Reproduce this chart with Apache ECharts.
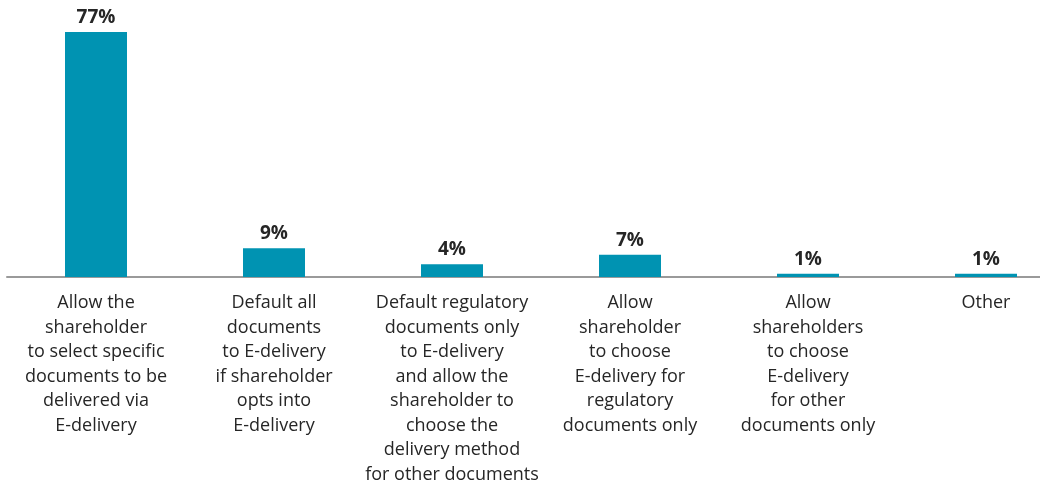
<!DOCTYPE html>
<html lang="en">
<head>
    <meta charset="UTF-8">
    <title>E-delivery</title>
    <style>
        html, body { margin: 0; padding: 0; background: #fff; }
        #main { width: 1040px; height: 482px; }
    </style>
</head>
<body>
<div id="main"></div>
<script src="https://cdn.jsdelivr.net/npm/echarts@6/dist/echarts.min.js"></script>
<script>
    const categories = [
        'Allow the\nshareholder\nto select specific\ndocuments to be\ndelivered via\nE-delivery',
        'Default all\ndocuments\nto E-delivery\nif shareholder\nopts into\nE-delivery',
        'Default regulatory\ndocuments only\nto E-delivery\nand allow the\nshareholder to\nchoose the\ndelivery method\nfor other documents',
        'Allow\nshareholder\nto choose\nE-delivery for\nregulatory\ndocuments only',
        'Allow\nshareholders\nto choose\nE-delivery\nfor other\ndocuments only',
        'Other'
    ];
    const values = [77, 9, 4, 7, 1, 1];

    const myChart = echarts.init(document.getElementById('main'));
    myChart.setOption({
        animation: false,
        textStyle: { fontFamily: 'Open Sans' },
        grid: { left: 7, right: -35, top: 32, bottom: 205, outerBoundsMode: 'none', containLabel: false },
        xAxis: {
            type: 'category',
            data: categories,
            axisTick: { show: false },
            axisLine: { lineStyle: { color: '#9a9a9a', width: 2 } },
            axisLabel: {
                interval: 0,
                color: '#262626',
                fontSize: 18,
                lineHeight: 24.5,
                margin: 14,
                align: 'center'
            }
        },
        yAxis: {
            type: 'value',
            min: 0,
            max: 77,
            show: false
        },
        series: [{
            type: 'bar',
            data: values,
            barWidth: 62,
            itemStyle: { color: '#0093b2' },
            label: {
                show: true,
                position: 'top',
                distance: 5,
                formatter: '{c}%',
                color: '#262626',
                fontSize: 19,
                fontWeight: 'bold'
            }
        }]
    });
</script>
</body>
</html>
